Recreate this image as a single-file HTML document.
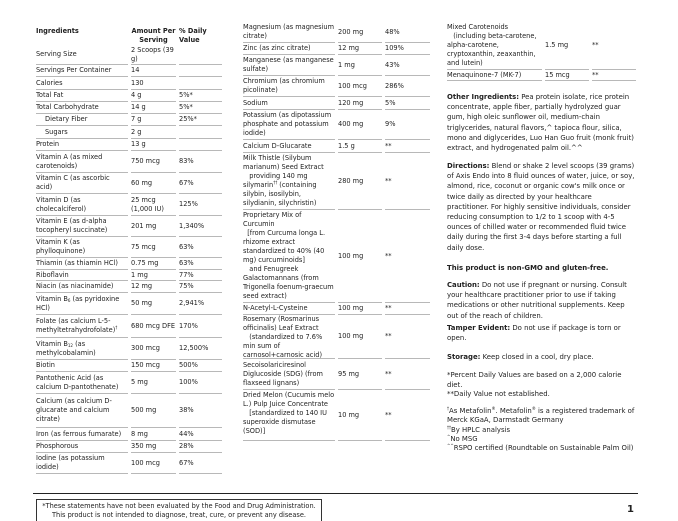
<!DOCTYPE html>
<html><head><meta charset="utf-8"><style>
*{margin:0;padding:0;box-sizing:border-box}
body{width:678px;height:521px;background:#fff;position:relative;overflow:hidden;font-family:"DejaVu Sans","Liberation Sans",sans-serif;font-size:6.6px;color:#222;line-height:9px}
.t{position:absolute}
.r{display:flex}
.r>div{border-bottom:1px solid #b8b8b8;margin-right:3px;display:flex;align-items:center}
.r>div:last-child{margin-right:0}
.p{position:absolute;left:447px;width:210px;line-height:10.2px;white-space:nowrap;font-size:6.9px}
b{font-weight:bold}
sup{font-size:4px;vertical-align:3px;line-height:0}
sub{font-size:4px;vertical-align:-1px;line-height:0}
.in{padding-left:9px}
</style></head><body>

<div class="t" style="left:36px;top:27px;width:186px">
<div class="r" style="height:18px"><div style="width:92px;border:none;align-items:flex-start"><b>Ingredients</b></div><div style="width:45px;border:none;line-height:9px;text-align:center"><b>Amount Per Serving</b></div><div style="width:43px;border:none;line-height:9px"><b>% Daily Value</b></div></div>
<div class="r" style="height:20px"><div style="width:92px">Serving Size</div><div style="width:45px">2 Scoops (39 g)</div><div style="width:43px"></div></div>
<div class="r" style="height:12px"><div style="width:92px">Servings Per Container</div><div style="width:45px">14</div><div style="width:43px"></div></div>
<div class="r" style="height:13px"><div style="width:92px">Calories</div><div style="width:45px">130</div><div style="width:43px"></div></div>
<div class="r" style="height:12px"><div style="width:92px">Total Fat</div><div style="width:45px">4 g</div><div style="width:43px">5%*</div></div>
<div class="r" style="height:12px"><div style="width:92px">Total Carbohydrate</div><div style="width:45px">14 g</div><div style="width:43px">5%*</div></div>
<div class="r" style="height:12px"><div style="width:92px" class="in">Dietary Fiber</div><div style="width:45px">7 g</div><div style="width:43px">25%*</div></div>
<div class="r" style="height:13px"><div style="width:92px" class="in">Sugars</div><div style="width:45px">2 g</div><div style="width:43px"></div></div>
<div class="r" style="height:12px"><div style="width:92px">Protein</div><div style="width:45px">13 g</div><div style="width:43px"></div></div>
<div class="r" style="height:22px"><div style="width:92px">Vitamin A (as mixed carotenoids)</div><div style="width:45px">750 mcg</div><div style="width:43px">83%</div></div>
<div class="r" style="height:21px"><div style="width:92px">Vitamin C (as ascorbic acid)</div><div style="width:45px">60 mg</div><div style="width:43px">67%</div></div>
<div class="r" style="height:22px"><div style="width:92px">Vitamin D (as cholecalciferol)</div><div style="width:45px">25 mcg (1,000 IU)</div><div style="width:43px">125%</div></div>
<div class="r" style="height:21px"><div style="width:92px">Vitamin E (as d-alpha tocopheryl succinate)</div><div style="width:45px">201 mg</div><div style="width:43px">1,340%</div></div>
<div class="r" style="height:21px"><div style="width:92px">Vitamin K (as phylloquinone)</div><div style="width:45px">75 mcg</div><div style="width:43px">63%</div></div>
<div class="r" style="height:12px"><div style="width:92px">Thiamin (as thiamin HCl)</div><div style="width:45px">0.75 mg</div><div style="width:43px">63%</div></div>
<div class="r" style="height:11px"><div style="width:92px">Riboflavin</div><div style="width:45px">1 mg</div><div style="width:43px">77%</div></div>
<div class="r" style="height:12px"><div style="width:92px">Niacin (as niacinamide)</div><div style="width:45px">12 mg</div><div style="width:43px">75%</div></div>
<div class="r" style="height:22px"><div style="width:92px"><span>Vitamin B<sub>6</sub> (as pyridoxine HCl)</span></div><div style="width:45px">50 mg</div><div style="width:43px">2,941%</div></div>
<div class="r" style="height:23px"><div style="width:92px"><span>Folate (as calcium L-5-methyltetrahydrofolate)<sup>†</sup></span></div><div style="width:45px">680 mcg DFE</div><div style="width:43px">170%</div></div>
<div class="r" style="height:22px"><div style="width:92px"><span>Vitamin B<sub>12</sub> (as methylcobalamin)</span></div><div style="width:45px">300 mcg</div><div style="width:43px">12,500%</div></div>
<div class="r" style="height:12px"><div style="width:92px">Biotin</div><div style="width:45px">150 mcg</div><div style="width:43px">500%</div></div>
<div class="r" style="height:22px"><div style="width:92px">Pantothenic Acid (as calcium D-pantothenate)</div><div style="width:45px">5 mg</div><div style="width:43px">100%</div></div>
<div class="r" style="height:34px"><div style="width:92px">Calcium (as calcium D-glucarate and calcium citrate)</div><div style="width:45px">500 mg</div><div style="width:43px">38%</div></div>
<div class="r" style="height:13px"><div style="width:92px">Iron (as ferrous fumarate)</div><div style="width:45px">8 mg</div><div style="width:43px">44%</div></div>
<div class="r" style="height:12px"><div style="width:92px">Phosphorous</div><div style="width:45px">350 mg</div><div style="width:43px">28%</div></div>
<div class="r" style="height:21px"><div style="width:92px">Iodine (as potassium iodide)</div><div style="width:45px">100 mcg</div><div style="width:43px">67%</div></div>
</div>

<div class="t" style="left:243px;top:22px;width:187px">
<div class="r" style="height:21px"><div style="width:92px">Magnesium (as magnesium citrate)</div><div style="width:44px">200 mg</div><div style="width:45px">48%</div></div>
<div class="r" style="height:12px"><div style="width:92px">Zinc (as zinc citrate)</div><div style="width:44px">12 mg</div><div style="width:45px">109%</div></div>
<div class="r" style="height:21px"><div style="width:92px">Manganese (as manganese sulfate)</div><div style="width:44px">1 mg</div><div style="width:45px">43%</div></div>
<div class="r" style="height:21px"><div style="width:92px">Chromium (as chromium picolinate)</div><div style="width:44px">100 mcg</div><div style="width:45px">286%</div></div>
<div class="r" style="height:13px"><div style="width:92px">Sodium</div><div style="width:44px">120 mg</div><div style="width:45px">5%</div></div>
<div class="r" style="height:30px"><div style="width:92px">Potassium (as dipotassium phosphate and potassium iodide)</div><div style="width:44px">400 mg</div><div style="width:45px">9%</div></div>
<div class="r" style="height:13px"><div style="width:92px">Calcium D-Glucarate</div><div style="width:44px">1.5 g</div><div style="width:45px">**</div></div>
<div class="r" style="height:57px"><div style="width:92px;display:block;padding-top:1px">Milk Thistle (Silybum marianum) Seed Extract<br>&nbsp;&nbsp;&nbsp;providing 140 mg silymarin<sup>††</sup> (containing silybin, isosilybin, silydianin, silychristin)</div><div style="width:44px">280 mg</div><div style="width:45px">**</div></div>
<div class="r" style="height:93px"><div style="width:92px;display:block;padding-top:1px">Proprietary Mix of Curcumin<br>&nbsp;&nbsp;[from Curcuma longa L. rhizome extract standardized to 40% (40 mg) curcuminoids]<br>&nbsp;&nbsp;&nbsp;and Fenugreek Galactomannans (from Trigonella foenum-graecum seed extract)</div><div style="width:44px">100 mg</div><div style="width:45px">**</div></div>
<div class="r" style="height:12px"><div style="width:92px">N-Acetyl-L-Cysteine</div><div style="width:44px">100 mg</div><div style="width:45px">**</div></div>
<div class="r" style="height:44px"><div style="width:92px;display:block;padding-top:0px">Rosemary (Rosmarinus officinalis) Leaf Extract<br>&nbsp;&nbsp;&nbsp;(standardized to 7.6% min sum of carnosol+carnosic acid)</div><div style="width:44px">100 mg</div><div style="width:45px">**</div></div>
<div class="r" style="height:31px"><div style="width:92px">Secoisolariciresinol Diglucoside (SDG) (from flaxseed lignans)</div><div style="width:44px">95 mg</div><div style="width:45px">**</div></div>
<div class="r" style="height:51px"><div style="width:92px;display:block;padding-top:1px">Dried Melon (Cucumis melo L.) Pulp Juice Concentrate<br>&nbsp;&nbsp;&nbsp;[standardized to 140 IU superoxide dismutase (SOD)]</div><div style="width:44px">10 mg</div><div style="width:45px">**</div></div>
</div>

<div class="t" style="left:447px;top:22px;width:189px">
<div class="r" style="height:48px"><div style="width:95px;display:block;padding-top:1px">Mixed Carotenoids<br>&nbsp;&nbsp;&nbsp;(including beta-carotene, alpha-carotene, cryptoxanthin, zeaxanthin, and lutein)</div><div style="width:44px">1.5 mg</div><div style="width:44px">**</div></div>
<div class="r" style="height:11px"><div style="width:95px">Menaquinone-7 (MK-7)</div><div style="width:44px">15 mcg</div><div style="width:44px">**</div></div>
</div>

<div class="p" style="top:92px"><b>Other Ingredients:</b> Pea protein isolate, rice protein<br>concentrate, apple fiber, partially hydrolyzed guar<br>gum, high oleic sunflower oil, medium-chain<br>triglycerides, natural flavors,^ tapioca flour, silica,<br>mono and diglycerides, Luo Han Guo fruit (monk fruit)<br>extract, and hydrogenated palm oil.^^</div>
<div class="p" style="top:161px"><b>Directions:</b> Blend or shake 2 level scoops (39 grams)<br>of Axis Endo into 8 fluid ounces of water, juice, or soy,<br>almond, rice, coconut or organic cow's milk once or<br>twice daily as directed by your healthcare<br>practitioner. For highly sensitive individuals, consider<br>reducing consumption to 1/2 to 1 scoop with 4-5<br>ounces of chilled water or recommended fluid twice<br>daily during the first 3-4 days before starting a full<br>daily dose.</div>
<div class="p" style="top:263px"><b>This product is non-GMO and gluten-free.</b></div>
<div class="p" style="top:280px"><b>Caution:</b> Do not use if pregnant or nursing. Consult<br>your healthcare practitioner prior to use if taking<br>medications or other nutritional supplements. Keep<br>out of the reach of children.</div>
<div class="p" style="top:323px"><b>Tamper Evident:</b> Do not use if package is torn or<br>open.</div>
<div class="p" style="top:352px"><b>Storage:</b> Keep closed in a cool, dry place.</div>
<div class="p" style="top:371px;line-height:9.6px">*Percent Daily Values are based on a 2,000 calorie<br>diet.<br>**Daily Value not established.</div>
<div class="p" style="top:407px;line-height:9.3px"><sup>†</sup>As Metafolin<sup>®</sup>. Metafolin<sup>®</sup> is a registered trademark of<br>Merck KGaA, Darmstadt Germany<br><sup>††</sup>By HPLC analysis<br><sup>^</sup>No MSG<br><sup>^^</sup>RSPO certified (Roundtable on Sustainable Palm Oil)</div>

<div class="t" style="left:33px;top:493px;width:605px;height:1px;background:#222"></div>
<div class="t" style="left:36px;top:499px;width:286px;height:22px;border:1px solid #333;border-bottom:none;text-align:center;line-height:8.5px;padding-top:2px;font-size:6.6px">*These statements have not been evaluated by the Food and Drug Administration.<br>This product is not intended to diagnose, treat, cure, or prevent any disease.</div>
<div class="t" style="left:627px;top:504px;font-size:10px;font-weight:bold;line-height:12px">1</div>
</body></html>
